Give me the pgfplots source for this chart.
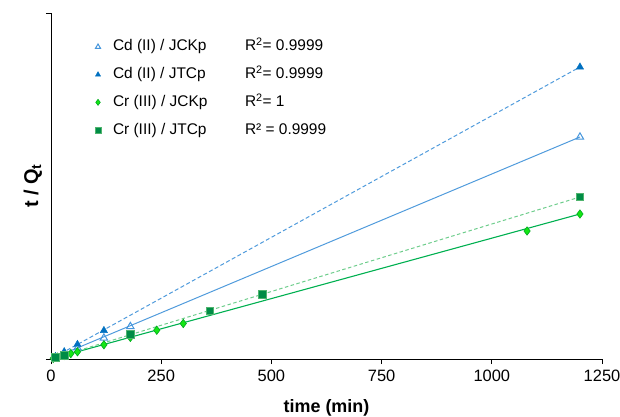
\documentclass[border=0pt]{standalone}
\usepackage{pgfplots}
\pgfplotsset{compat=1.18}
\usepackage{fontspec}
\setmainfont{Liberation Sans}
\definecolor{cdfill}{RGB}{0,112,192}
\definecolor{cdline}{RGB}{80,155,220}
\definecolor{cdopen}{RGB}{70,150,220}
\definecolor{crdia}{RGB}{20,230,20}
\definecolor{crdiaedge}{RGB}{0,170,30}
\definecolor{crsq}{RGB}{0,140,70}
\definecolor{crsqedge}{RGB}{80,180,110}
\definecolor{crline}{RGB}{0,176,80}
\definecolor{crdash}{RGB}{110,205,140}
\begin{document}
\begin{tikzpicture}
\path[use as bounding box] (-51bp,-58bp) rectangle (569bp,359bp);
\begin{axis}[
  scale only axis, width=551bp, height=346bp,
  xmin=0, xmax=1250, ymin=0, ymax=346,
  axis lines*=left,
  axis line style={black, line width=1bp},
  xtick={0,250,500,750,1000,1250}, ytick={0,346}, yticklabels={},
  tick align=outside, major tick length=5bp,
  tick style={black, line width=0.8bp},
  /pgf/number format/assume math mode=true,
  /pgf/number format/1000 sep={},
  ticklabel style={font=\fontsize{16.5}{19}\selectfont},
  xticklabel style={yshift=-3bp},
  xlabel={\textbf{time (min)}},
  ylabel={\textbf{t / Q\textsubscript{t}}},
  label style={font=\fontsize{18}{21}\selectfont},
  xlabel style={at={(axis description cs:0.5,-0.1416)}, anchor=center},
  ylabel style={at={(axis description cs:-0.033,0.5)}, anchor=center, font=\fontsize{20}{23}\selectfont},
  legend cell align=left,
  legend style={draw=none, fill=none, at={(axis description cs:0.0799,0.925)},
    anchor=north west, inner sep=0pt, outer sep=0pt,
    font=\fontsize{15.5}{18}\selectfont,
    nodes={inner sep=0pt, text height=12bp, text depth=4bp},
    row sep=11.7bp, column sep=12bp},
  legend image code/.code={\draw[mark size=3bp] plot coordinates {(0bp,0bp)};},
]
% trend lines
\addplot[cdline, line width=1bp, forget plot] coordinates {(10,1.85)(1200,222)};
\addplot[cdline, line width=1bp, dash pattern=on 4bp off 2.5bp, forget plot] coordinates {(10,2.4)(1200,292)};
\addplot[crline, line width=1.1bp, forget plot] coordinates {(5,0.6)(1200,145)};
\addplot[crdash, line width=1bp, dash pattern=on 3.5bp off 2.5bp, forget plot] coordinates {(10,1.35)(1200,162)};
% data
\addplot[only marks, mark=triangle, mark size=4.2bp, cdopen, mark options={line width=1bp}]
  coordinates {(10,1.9)(30,5.6)(60,11.1)(120,21)(180,32.5)(1200,222)};
\addlegendentry{\makebox[132bp][l]{Cd (II) / JCKp}R\textsuperscript{2}= 0.9999}
\addplot[only marks, mark=triangle*, mark size=4.2bp, draw=cdfill, fill=cdfill]
  coordinates {(10,2.5)(30,7.3)(60,14.6)(120,28.5)(1200,292)};
\addlegendentry{\makebox[132bp][l]{Cd (II) / JTCp}R\textsuperscript{2}= 0.9999}
\addplot[only marks, mark=diamond*, mark size=4.2bp, draw=crdiaedge, fill=crdia, mark options={line width=0.6bp}]
  coordinates {(5,0.6)(15,1.8)(30,3.6)(45,5.4)(60,7.2)(120,14.2)(180,21.6)(240,28.8)(300,35.5)(1080,128)(1200,145)};
\addlegendentry{\makebox[132bp][l]{Cr (III) / JCKp}R\textsuperscript{2}= 1}
\addplot[only marks, mark=square*, mark size=3.8bp, draw=crsqedge, fill=crsq, mark options={line width=0.6bp}]
  coordinates {(10,1.4)(30,3.5)(180,24.5)(360,48)(480,64.5)(1200,162)};
\addlegendentry{\makebox[132bp][l]{Cr (III) / JTCp}R² = 0.9999}
\end{axis}
\end{tikzpicture}
\end{document}
